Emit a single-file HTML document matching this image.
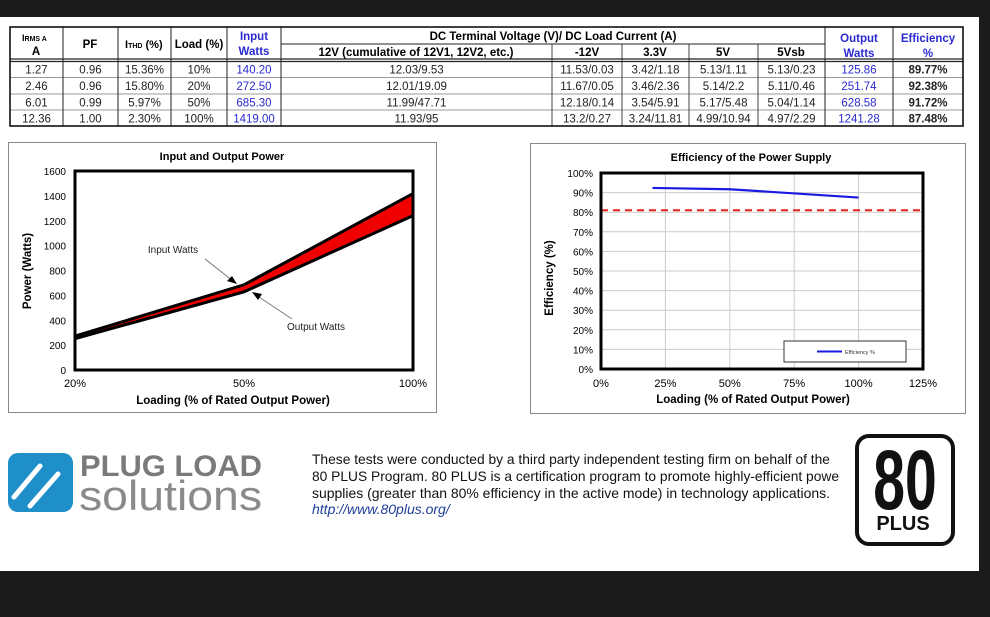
<!DOCTYPE html>
<html><head><meta charset="utf-8"><style>
body{margin:0;width:990px;height:617px;background:#1b1b1b;overflow:hidden;font-family:"Liberation Sans",Arial,sans-serif;}
#page{position:absolute;left:0;top:17px;width:979px;height:554px;background:#fff;}
svg text{font-family:"Liberation Sans",Arial,sans-serif;}
</style></head><body>
<div id="page"></div>
<svg width="990" height="617" style="position:absolute;left:0;top:0">
<g id="tbl"></g>
<g id="c1"></g>
<g id="c2"></g>
<g>
 <rect x="8" y="453" width="65" height="59" rx="10" fill="#1f8fc9"/>
 <line x1="14" y1="497" x2="40" y2="466" stroke="#fff" stroke-width="5" stroke-linecap="round"/>
 <line x1="30" y1="506" x2="58" y2="474" stroke="#fff" stroke-width="5" stroke-linecap="round"/>
 <text x="80" y="476" font-size="30" font-weight="bold" fill="#7a7a7a" textLength="182" lengthAdjust="spacingAndGlyphs">PLUG LOAD</text>
 <text x="79" y="510" font-size="42" fill="#8a8a8a" textLength="183" lengthAdjust="spacingAndGlyphs">solutions</text>
</g>
<g font-size="14" fill="#111">
 <text x="312" y="464" textLength="518" lengthAdjust="spacingAndGlyphs">These tests were conducted by a third party independent testing firm on behalf of the</text>
 <text x="312" y="481" textLength="527" lengthAdjust="spacingAndGlyphs">80 PLUS Program. 80 PLUS is a certification program to promote highly-efficient powe</text>
 <text x="312" y="498" textLength="518" lengthAdjust="spacingAndGlyphs">supplies (greater than 80% efficiency in the active mode) in technology applications.</text>
 <text x="312" y="514" fill="#1f3f9a" font-style="italic">http://www.80plus.org/</text>
</g>
<g>
 <rect x="857" y="436" width="96" height="108" rx="12" fill="#fff" stroke="#111" stroke-width="4"/>
 <text x="905" y="509" font-size="84" font-weight="bold" text-anchor="middle" fill="#111" transform="translate(905,0) scale(0.68,1) translate(-905,0)">80</text>
 <text x="903" y="530" font-size="20" font-weight="bold" text-anchor="middle" fill="#111">PLUS</text>
</g>
</svg>
<script>
const NS="http://www.w3.org/2000/svg";
function mk(p,t,a,txt){const e=document.createElementNS(NS,t);for(const k in a)e.setAttribute(k,a[k]);if(txt!==undefined)e.textContent=txt;p.appendChild(e);return e;}
// ---- chart 1 data
const loadCats=["20%","50%","100%"];
const inputWatts=[272.5,685.3,1419];
const outputWatts=[251.74,628.58,1241.28];
const powerTicks=[0,200,400,600,800,1000,1200,1400,1600];
// ---- chart 2 data
const effLoads=[20,50,100];
const effValues=[92.38,91.72,87.48];
const effThreshold=81;
const effYTicks=[0,10,20,30,40,50,60,70,80,90,100];
const effXTicks=[0,25,50,75,100,125];

// ---- table
const colX=[10,63,118,171,227,281,552,622,689,758,825,893,963];
const rowsData=[
["1.27","0.96","15.36%","10%","140.20","12.03/9.53","11.53/0.03","3.42/1.18","5.13/1.11","5.13/0.23","125.86","89.77%"],
["2.46","0.96","15.80%","20%","272.50","12.01/19.09","11.67/0.05","3.46/2.36","5.14/2.2","5.11/0.46","251.74","92.38%"],
["6.01","0.99","5.97%","50%","685.30","11.99/47.71","12.18/0.14","3.54/5.91","5.17/5.48","5.04/1.14","628.58","91.72%"],
["12.36","1.00","2.30%","100%","1419.00","11.93/95","13.2/0.27","3.24/11.81","4.99/10.94","4.97/2.29","1241.28","87.48%"]];
const T=document.getElementById('tbl');
const rowY=[61,77.5,94,110,126];
for(let r=0;r<4;r++){
 for(let c=0;c<12;c++){
  const cx=(colX[c]+colX[c+1])/2;
  const blue=(c==4||c==10);
  const t=mk(T,'text',{x:cx,y:rowY[r]+12.5,'font-size':11.5,'text-anchor':'middle',fill:blue?'#2a2ad0':'#222','font-weight':c==11?'bold':'normal'},rowsData[r][c]);
  
  
 }
 if(r>0) mk(T,'line',{x1:10,x2:963,y1:rowY[r],y2:rowY[r],stroke:'#999','stroke-width':1});
}
for(let c=1;c<12;c++){
 const top=(c>=6&&c<=9)?44:27;
 mk(T,'line',{x1:colX[c],x2:colX[c],y1:top,y2:126,stroke:c<=5||c>=10?'#222':'#444','stroke-width':1});
}
mk(T,'line',{x1:281,x2:825,y1:44,y2:44,stroke:'#222'});
mk(T,'line',{x1:10,x2:963,y1:59,y2:59,stroke:'#222','stroke-width':1.2});
mk(T,'line',{x1:10,x2:963,y1:61.5,y2:61.5,stroke:'#222','stroke-width':1.2});
mk(T,'rect',{x:10,y:27,width:953,height:99,fill:'none',stroke:'#111','stroke-width':1.6});
const h1=mk(T,'text',{x:22,y:41,'font-size':9,'font-weight':'bold'});
mk(h1,'tspan',{},'I');mk(h1,'tspan',{'font-size':7},'RMS A');
mk(T,'text',{x:36,y:55,'font-size':11.5,'font-weight':'bold','text-anchor':'middle'},'A');
mk(T,'text',{x:90,y:48,'font-size':11.5,'font-weight':'bold','text-anchor':'middle'},'PF');
const h3=mk(T,'text',{x:125,y:48,'font-size':11,'font-weight':'bold'});
mk(h3,'tspan',{},'I');mk(h3,'tspan',{'font-size':7},'THD');mk(h3,'tspan',{},' (%)');
mk(T,'text',{x:199,y:48,'font-size':11.5,'font-weight':'bold','text-anchor':'middle'},'Load (%)');
mk(T,'text',{x:254,y:40,'font-size':11.5,'font-weight':'bold','text-anchor':'middle',fill:'#2a2ad0'},'Input');
mk(T,'text',{x:254,y:55,'font-size':11.5,'font-weight':'bold','text-anchor':'middle',fill:'#2a2ad0'},'Watts');
mk(T,'text',{x:553,y:40,'font-size':11.5,'font-weight':'bold','text-anchor':'middle'},'DC Terminal Voltage (V)/ DC Load Current (A)');
[['12V (cumulative of 12V1, 12V2, etc.)',416],['-12V',587],['3.3V',655],['5V',723],['5Vsb',791]].forEach(h=>mk(T,'text',{x:h[1],y:56,'font-size':11.5,'font-weight':'bold','text-anchor':'middle'},h[0]));
mk(T,'text',{x:859,y:42,'font-size':11.5,'font-weight':'bold','text-anchor':'middle',fill:'#2a2ad0'},'Output');
mk(T,'text',{x:859,y:57,'font-size':11.5,'font-weight':'bold','text-anchor':'middle',fill:'#2a2ad0'},'Watts');
mk(T,'text',{x:928,y:42,'font-size':11.5,'font-weight':'bold','text-anchor':'middle',fill:'#2a2ad0'},'Efficiency');
mk(T,'text',{x:928,y:57,'font-size':11.5,'font-weight':'bold','text-anchor':'middle',fill:'#2a2ad0'},'%');

const C1=document.getElementById('c1');
mk(C1,'rect',{x:8.5,y:142.5,width:428,height:270,fill:'#fff',stroke:'#888'});
const p1={l:75,r:413,t:171,b:370};
const x1=i=>p1.l+(p1.r-p1.l)*i/(loadCats.length-1);
const y1=v=>p1.b-(p1.b-p1.t)*v/1600;
mk(C1,'text',{x:222,y:160,'font-size':11,'font-weight':'bold','text-anchor':'middle'},'Input and Output Power');
powerTicks.forEach(v=>{const t=mk(C1,'text',{x:66,y:y1(v)+4,'font-size':10,'text-anchor':'end'},v);});
loadCats.forEach((c,i)=>{const t=mk(C1,'text',{x:x1(i),y:387,'font-size':11,'text-anchor':'middle'},c);});
let band='M'+inputWatts.map((v,i)=>x1(i)+','+y1(v)).join(' L')+' L'+outputWatts.map((v,i)=>x1(i)+','+y1(v)).reverse().join(' L')+'Z';
const bp=mk(C1,'path',{d:band,fill:'#f00000'});


const li=mk(C1,'polyline',{points:inputWatts.map((v,i)=>x1(i)+','+y1(v)).join(' '),fill:'none',stroke:'#000','stroke-width':3});


const lo=mk(C1,'polyline',{points:outputWatts.map((v,i)=>x1(i)+','+y1(v)).join(' '),fill:'none',stroke:'#000','stroke-width':3});


mk(C1,'rect',{x:p1.l,y:p1.t,width:p1.r-p1.l,height:p1.b-p1.t,fill:'none',stroke:'#000','stroke-width':3});
mk(C1,'text',{x:0,y:0,'font-size':11.5,'font-weight':'bold','text-anchor':'middle',transform:'translate(31,271) rotate(-90)'},'Power (Watts)');
mk(C1,'text',{x:233,y:404,'font-size':11.5,'font-weight':'bold','text-anchor':'middle'},'Loading (% of Rated Output Power)');
mk(C1,'text',{x:173,y:253,'font-size':10,'text-anchor':'middle',fill:'#222'},'Input Watts');
mk(C1,'line',{x1:205,y1:259,x2:233,y2:281,stroke:'#777'});
mk(C1,'path',{d:'M237,284 L227,281 L232,276Z',fill:'#000'});
mk(C1,'text',{x:316,y:330,'font-size':10,'text-anchor':'middle',fill:'#222'},'Output Watts');
mk(C1,'line',{x1:292,y1:319,x2:256,y2:295,stroke:'#777'});
mk(C1,'path',{d:'M252,292 L262,294 L258,300Z',fill:'#000'});

const C2=document.getElementById('c2');
mk(C2,'rect',{x:530.5,y:143.5,width:435,height:270,fill:'#fff',stroke:'#888'});
const p2={l:601,r:923,t:173,b:369};
const x2=v=>p2.l+(p2.r-p2.l)*v/125;
const y2=v=>p2.b-(p2.b-p2.t)*v/100;
mk(C2,'text',{x:751,y:161,'font-size':11,'font-weight':'bold','text-anchor':'middle'},'Efficiency of the Power Supply');
effYTicks.forEach(v=>{mk(C2,'line',{x1:p2.l,x2:p2.r,y1:y2(v),y2:y2(v),stroke:'#ccc'});const t=mk(C2,'text',{x:593,y:y2(v)+4,'font-size':10,'text-anchor':'end'},v+'%');});
effXTicks.forEach(v=>{mk(C2,'line',{x1:x2(v),x2:x2(v),y1:p2.t,y2:p2.b,stroke:'#ccc'});const t=mk(C2,'text',{x:x2(v),y:387,'font-size':11,'text-anchor':'middle'},v+'%');});
const th=mk(C2,'line',{x1:p2.l,x2:p2.r,y1:y2(effThreshold),y2:y2(effThreshold),stroke:'#e8201c','stroke-width':2,'stroke-dasharray':'7,5'});


const el=mk(C2,'polyline',{points:effLoads.map((v,i)=>x2(v)+','+y2(effValues[i])).join(' '),fill:'none',stroke:'#1a1ae0','stroke-width':2.2});


mk(C2,'rect',{x:p2.l,y:p2.t,width:p2.r-p2.l,height:p2.b-p2.t,fill:'none',stroke:'#000','stroke-width':3});
const lg=mk(C2,'g',{});


mk(lg,'rect',{x:784,y:341,width:122,height:21,fill:'#fff',stroke:'#333'});
mk(lg,'line',{x1:817,x2:842,y1:351.5,y2:351.5,stroke:'#1a1ae0','stroke-width':2});
mk(lg,'text',{x:845,y:354,'font-size':5.5,fill:'#333'},'Efficiency %');
mk(C2,'text',{x:0,y:0,'font-size':11.5,'font-weight':'bold','text-anchor':'middle',transform:'translate(553,278) rotate(-90)'},'Efficiency (%)');
mk(C2,'text',{x:753,y:403,'font-size':11.5,'font-weight':'bold','text-anchor':'middle'},'Loading (% of Rated Output Power)');
</script>
</body></html>
